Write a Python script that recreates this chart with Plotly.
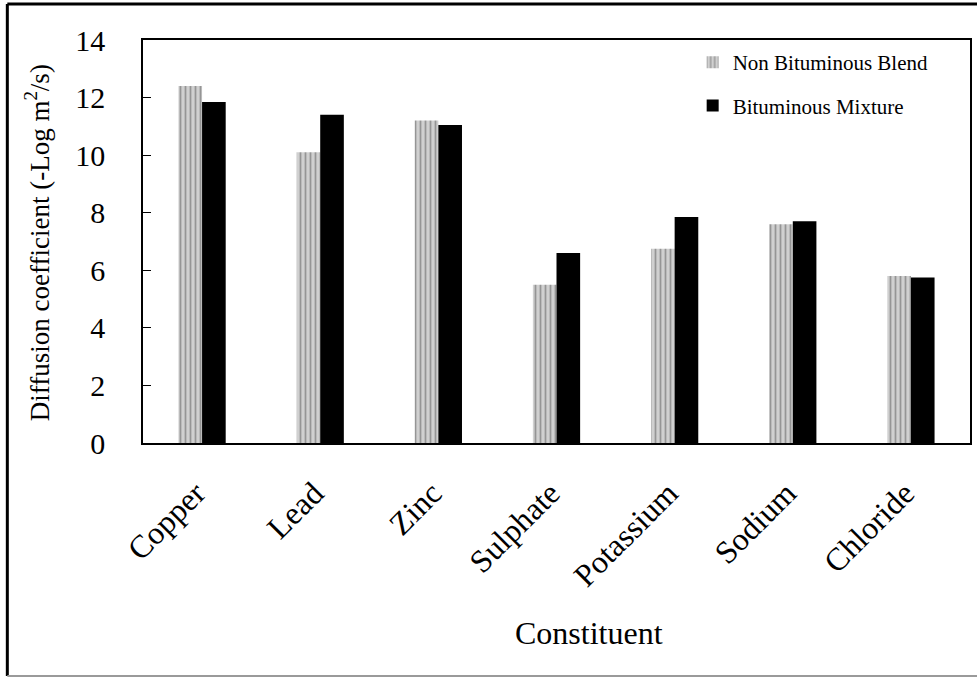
import plotly.graph_objects as go

categories = ["Copper", "Lead", "Zinc", "Sulphate", "Potassium", "Sodium", "Chloride"]
non_bituminous = [12.4, 10.1, 11.2, 5.5, 6.75, 7.6, 5.8]
bituminous = [11.85, 11.4, 11.05, 6.6, 7.85, 7.7, 5.75]
y_ticks = [0, 2, 4, 6, 8, 10, 12, 14]

FONT = "Liberation Serif"

fig = go.Figure()
fig.add_trace(go.Bar(
    x=categories, y=non_bituminous, name="Non Bituminous Blend",
    legendgroup="a",
    marker=dict(color="#d0d0d0", line=dict(width=0),
                pattern=dict(shape="|", fgcolor="#5a5a5a", bgcolor="#d0d0d0",
                             size=5, solidity=0.35)),
))
fig.add_trace(go.Bar(
    x=categories, y=bituminous, name="Bituminous Mixture",
    legendgroup="b",
    marker=dict(color="#000000", line=dict(width=0)),
))

W, H = 977, 677
L, R, T, B = 143, 972, 40, 443
pw, ph = R - L, B - T

def px(x):
    return (x - L) / pw

def py(y):
    return (B - y) / ph

fig.update_layout(
    width=W, height=H,
    margin=dict(l=L, r=W - R, t=T, b=H - B, pad=0),
    paper_bgcolor="white", plot_bgcolor="white",
    barmode="group", bargap=0.6, bargroupgap=0,
    font=dict(family=FONT, color="black"),
    showlegend=True,
    legend=dict(x=px(694), y=py(42), xanchor="left", yanchor="top",
                font=dict(size=21, family=FONT, color="black"),
                bgcolor="rgba(0,0,0,0)",
                tracegroupgap=13, traceorder="grouped"),
    xaxis=dict(showline=True, linecolor="black", linewidth=1.5, mirror=True,
               ticks="", tickangle=-45, ticklabelstandoff=17, ticklabelshift=-6,
               tickfont=dict(size=32, family=FONT, color="black")),
    yaxis=dict(range=[0, 14], tickvals=y_ticks, showline=True, linecolor="black",
               linewidth=1.5, mirror=True, ticks="inside", ticklen=8, tickcolor="black",
               ticklabelstandoff=30,
               showgrid=False, zeroline=False,
               tickfont=dict(size=30, family=FONT, color="black")),
)

fig.add_annotation(text="Diffusion coefficient (-Log m<sup>2</sup>/s)",
                   xref="paper", yref="paper", x=px(37), y=py(243),
                   xanchor="center", yanchor="middle", textangle=-90, showarrow=False,
                   font=dict(size=27, family=FONT, color="black"))
fig.add_annotation(text="Constituent",
                   xref="paper", yref="paper", x=px(590), y=py(633),
                   xanchor="center", yanchor="middle", showarrow=False,
                   font=dict(size=32, family=FONT, color="black"))

# outer frame
fig.add_shape(type="line", xref="paper", yref="paper", x0=px(7), x1=px(985),
              y0=py(4), y1=py(4), line=dict(color="black", width=3))
fig.add_shape(type="line", xref="paper", yref="paper", x0=px(7), x1=px(7),
              y0=py(4), y1=py(676), line=dict(color="black", width=3))
fig.add_shape(type="line", xref="paper", yref="paper", x0=px(7), x1=px(985),
              y0=py(676), y1=py(676), line=dict(color="#9a9a9a", width=2))

fig.write_html("out.html")
